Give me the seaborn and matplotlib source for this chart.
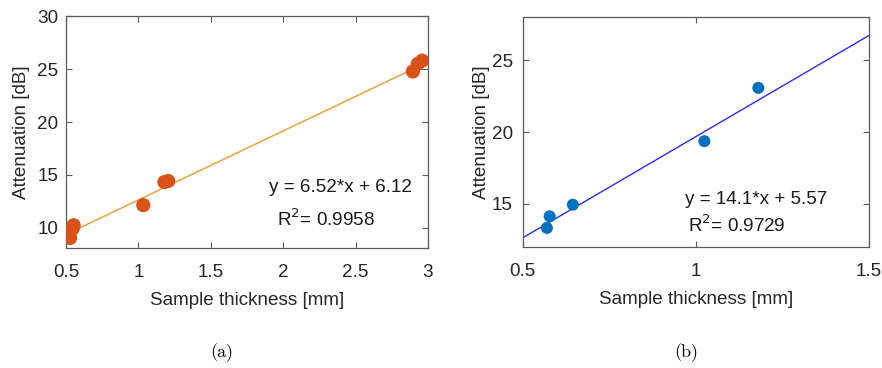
import matplotlib
matplotlib.use("Agg")
import matplotlib.pyplot as plt
import seaborn as sns
import numpy as np
import pandas as pd

# ---- data (a) ----
thick_a = [0.528, 0.545, 0.553, 1.034, 1.18, 1.206, 2.896, 2.93, 2.96]
atten_a = [9.05, 9.9, 10.25, 12.15, 14.33, 14.43, 24.78, 25.5, 25.8]
fit_a = (6.52, 6.12)
fit_range_a = [0.53, 3.0]

# ---- data (b) ----
thick_b = [0.570, 0.578, 0.645, 1.025, 1.181]
atten_b = [13.31, 14.12, 14.93, 19.36, 23.08]
fit_b = (14.1, 5.57)
fit_range_b = [0.5, 1.5]

xticks_a = [0.5, 1, 1.5, 2, 2.5, 3]
yticks_a = [10, 15, 20, 25, 30]
xticks_b = [0.5, 1, 1.5]
yticks_b = [15, 20, 25]

sns.set_theme(style="white")
plt.rcParams['font.family'] = ['Liberation Sans', 'DejaVu Sans']

fig = plt.figure(figsize=(8.82, 3.68), dpi=100)
ax1 = fig.add_axes([0.0748, 0.326, 0.4104, 0.630])
ax2 = fig.add_axes([0.5926, 0.3296, 0.3923, 0.6234])

txtc = "#262626"
edgec = "#5a5a5a"
FS = 13.6

def style(ax, xt, yt, xl, yl, ypad, ylabelpad):
    ax.set_xlim(*xl)
    ax.set_ylim(*yl)
    ax.set_xticks(xt)
    ax.set_yticks(yt)
    ax.set_xticklabels([f"{v:g}" for v in xt])
    ax.set_yticklabels([f"{v:g}" for v in yt])
    ax.tick_params(direction="in", length=4, width=0.8, colors=edgec,
                   labelcolor=txtc, labelsize=FS, top=True, right=True,
                   bottom=True, left=True)
    ax.tick_params(axis="x", pad=11.5)
    ax.tick_params(axis="y", pad=ypad)
    for s in ax.spines.values():
        s.set_color(edgec)
        s.set_linewidth(0.9)
    ax.set_xlabel("Sample thickness [mm]", fontsize=FS, color=txtc, labelpad=8)
    ax.set_ylabel("Attenuation [dB]", fontsize=FS, color=txtc, labelpad=ylabelpad)

# (a)
da = pd.DataFrame({"x": thick_a, "y": atten_a})
la = pd.DataFrame({"x": fit_range_a, "y": [fit_a[0] * v + fit_a[1] for v in fit_range_a]})
sns.lineplot(data=la, x="x", y="y", ax=ax1, color="#EDA33A", linewidth=1.1)
sns.scatterplot(data=da, x="x", y="y", ax=ax1, color="#D95319", s=105,
                edgecolor="none", zorder=3)
style(ax1, xticks_a, yticks_a, (0.5, 3.0), (8.1, 30), 5.5, 5)
ax1.text(0.562, 0.259, f"y = {fit_a[0]}*x + {fit_a[1]}", transform=ax1.transAxes,
         fontsize=FS, color="#1a1a1a", va="center", ha="left")
ax1.text(0.584, 0.125, "R$^2$= 0.9958", transform=ax1.transAxes,
         fontsize=FS, color="#1a1a1a", va="center", ha="left")

# (b)
db = pd.DataFrame({"x": thick_b, "y": atten_b})
lb = pd.DataFrame({"x": fit_range_b, "y": [fit_b[0] * v + fit_b[1] for v in fit_range_b]})
sns.lineplot(data=lb, x="x", y="y", ax=ax2, color="#2a2aff", linewidth=1.0)
sns.scatterplot(data=db, x="x", y="y", ax=ax2, color="#0072BD", s=75,
                edgecolor="none", zorder=3)
style(ax2, xticks_b, yticks_b, (0.5, 1.5), (12.0, 28.0), 7, 1)
ax2.text(0.47, 0.204, f"y = {fit_b[0]}*x + {fit_b[1]}", transform=ax2.transAxes,
         fontsize=FS, color="#1a1a1a", va="center", ha="left")
ax2.text(0.478, 0.095, "R$^2$= 0.9729", transform=ax2.transAxes,
         fontsize=FS, color="#1a1a1a", va="center", ha="left")

fig.text(222 / 882, 1 - 353 / 368, "(a)", family=["cmr10", "DejaVu Serif"], fontsize=13,
         ha="center", va="center", color="black")
fig.text(686 / 882, 1 - 353 / 368, "(b)", family=["cmr10", "DejaVu Serif"], fontsize=13,
         ha="center", va="center", color="black")

fig.savefig("out.png", dpi=100)
